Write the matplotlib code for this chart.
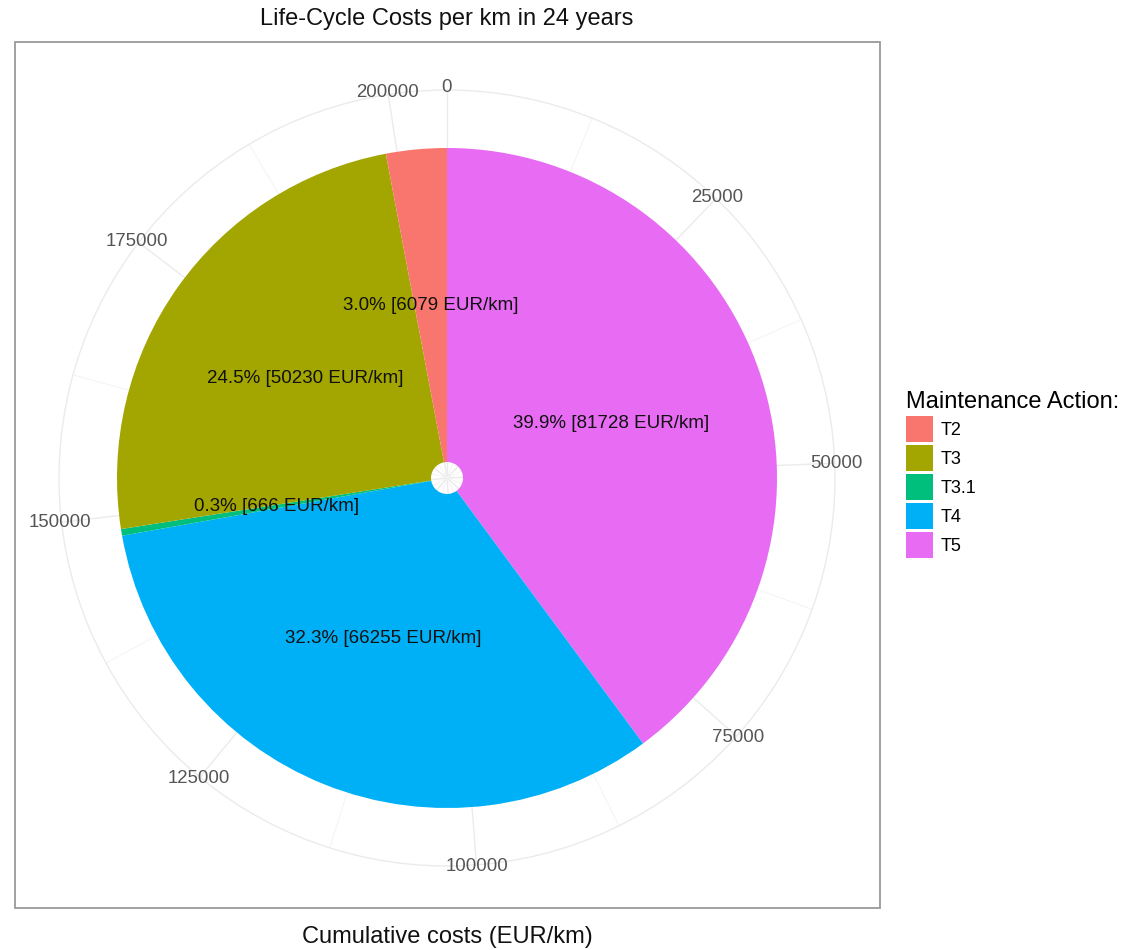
import numpy as np
import matplotlib
matplotlib.use("Agg")
import matplotlib.pyplot as plt
from matplotlib.patches import Rectangle, Patch

plt.rcParams['font.family'] = ['Liberation Sans', 'DejaVu Sans']

# ---- data ----
actions = ["T2", "T3", "T3.1", "T4", "T5"]
costs = [6079, 50230, 666, 66255, 81728]
colors = ["#F8766D", "#A3A500", "#00BF7D", "#00B0F6", "#E76BF3"]
major_ticks = [0, 25000, 50000, 75000, 100000, 125000, 150000, 175000, 200000]
minor_ticks = [12500, 37500, 62500, 87500, 112500, 137500, 162500, 187500]
title = "Life-Cycle Costs per km in 24 years"
xlabel = "Cumulative costs (EUR/km)"
legend_title = "Maintenance Action:"

W, H = 1124, 950
fig = plt.figure(figsize=(W / 100, H / 100), dpi=100)

# geometry (pixels)
cx, cy = 447, 478
r_pie_px = 330
r_out_px = 388
HOLE = 16 / r_pie_px
R_OUT = r_out_px / r_pie_px
R_LAB = 390 / r_pie_px
R_TXT = (HOLE + 1) / 2

ax = fig.add_axes([(cx - r_out_px) / W, (H - cy - r_out_px) / H,
                   2 * r_out_px / W, 2 * r_out_px / H], projection='polar')
ax.set_theta_zero_location('N')
ax.set_theta_direction(-1)
total = float(sum(costs))
to_theta = lambda v: np.asarray(v, dtype=float) / total * 2 * np.pi

# stacking order: T5 first (from 0 clockwise), T2 last
order = list(range(len(actions)))[::-1]
start = 0.0
for i in order:
    v = costs[i]
    th0 = to_theta(start)
    w = to_theta(v)
    ax.bar(th0, 1 - HOLE, width=w, bottom=HOLE, align='edge',
           color=colors[i], edgecolor='none', linewidth=0, zorder=3)
    mid = to_theta(start + v / 2)
    pct = v / total * 100
    ax.text(mid, R_TXT, f"{pct:.1f}% [{v} EUR/km]", ha='center', va='center',
            fontsize=13.5, color='#111111', zorder=5)
    start += v

ax.set_ylim(0, R_OUT)
ax.set_yticks([])
ax.set_xticks(to_theta(major_ticks))
ax.set_xticks(to_theta(minor_ticks), minor=True)
ax.set_xticklabels([])
ax.tick_params(axis='x', which='both', length=0)
ax.grid(True, which='major', axis='x', color='#EBEBEB', linewidth=1.0)
ax.grid(True, which='minor', axis='x', color='#F2F2F2', linewidth=0.6)
ax.set_axisbelow(True)
ax.spines['polar'].set_color('#EBEBEB')
ax.spines['polar'].set_linewidth(1.0)
ax.patch.set_alpha(0)
for t in major_ticks:
    ax.text(to_theta(t), R_LAB, str(t), ha='center', va='center',
            fontsize=13.4, color='#555555', zorder=6)

# panel border
fig.add_artist(Rectangle((15 / W, 1 - 908 / H), (880 - 15) / W, (908 - 42) / H,
                         transform=fig.transFigure, fill=False,
                         edgecolor='#9A9A9A', linewidth=1.3))

fig.text(cx / W, 1 - 19 / H, title, ha='center', va='center', fontsize=17, color='#111111')
fig.text(cx / W, 1 - 937 / H, xlabel, ha='center', va='center', fontsize=17, color='#111111')

handles = [Patch(facecolor=c, edgecolor='none') for c in colors]
leg = fig.legend(handles, actions, loc='upper left', bbox_to_anchor=(906 / W, 1 - 391 / H),
                 frameon=False, fontsize=13, title=legend_title, title_fontsize=17,
                 handlelength=1.5, handleheight=1.84, labelspacing=0.17,
                 handletextpad=0.4, borderpad=0, borderaxespad=0, alignment='left')

fig.savefig("out.png", dpi=100)
